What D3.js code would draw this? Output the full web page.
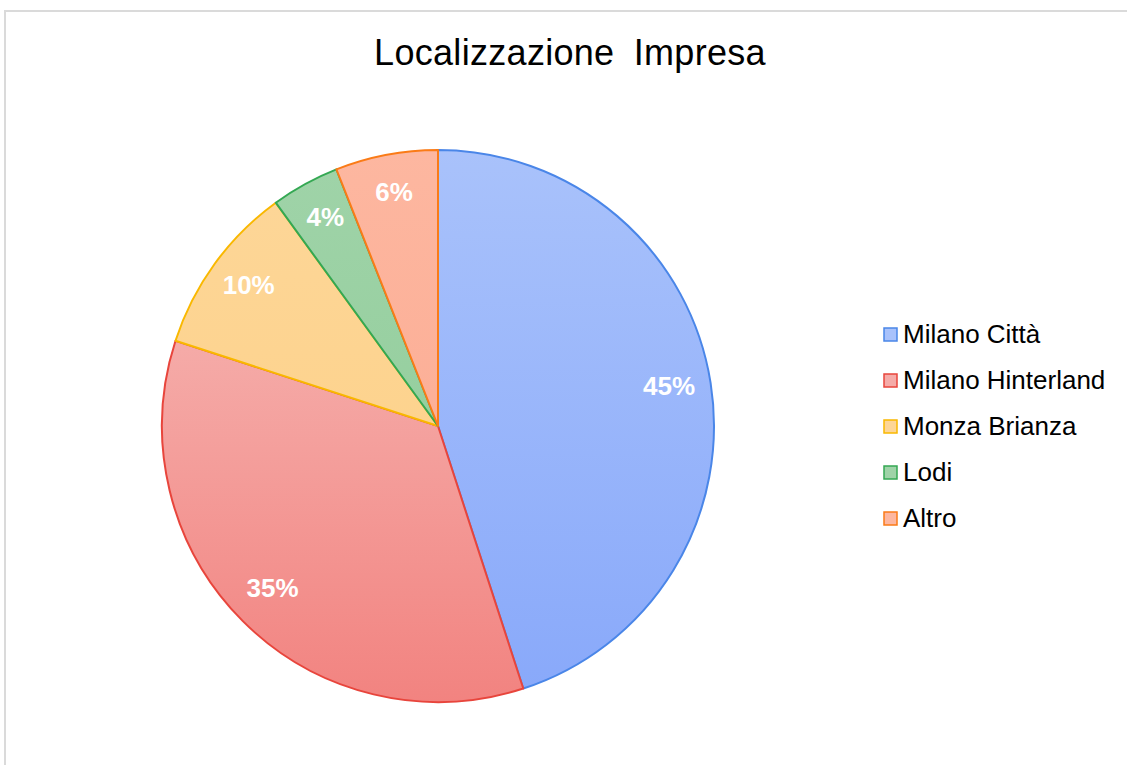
<!DOCTYPE html>
<html>
<head>
<meta charset="utf-8">
<script src="https://cdn.jsdelivr.net/npm/d3@7"></script>
<style>
  body { margin: 0; background: #fff; }
  text { font-family: "Liberation Sans", Arial, sans-serif; }
</style>
</head>
<body>
<div id="chart"></div>
<script>
let categories = ["Milano Città", "Milano Hinterland", "Monza Brianza", "Lodi", "Altro"]
let values = [45, 35, 10, 4, 6]
let fillTop = ["#a9c2fb", "#f5aba8", "#fdd697", "#9fd3a8", "#fdb7a0"]
let fillBottom = ["#89a9fa", "#f28380", "#fdd38e", "#96cf9f", "#fcaf97"]
let strokes = ["#4a86e8", "#e8453c", "#f9b800", "#34a853", "#fa7b17"]

let svgWidth = 1127
let svgHeight = 765

let svg = d3.select("#chart")
  .append("svg")
  .attr("width", svgWidth)
  .attr("height", svgHeight)

// frame
svg.append("path")
  .attr("d", "M5,765 L5,11 L1127,11")
  .attr("fill", "none")
  .attr("stroke", "#dadada")
  .attr("stroke-width", 2)

svg.append("text")
  .attr("x", 570)
  .attr("y", 65)
  .attr("text-anchor", "middle")
  .attr("font-size", 36)
  .attr("word-spacing", 9)
  .attr("letter-spacing", 0.3)
  .attr("fill", "#000")
  .text("Localizzazione Impresa")

let defs = svg.append("defs")
categories.forEach(function(c, i) {
  let g = defs.append("linearGradient")
    .attr("id", "grad" + i)
    .attr("x1", 0).attr("y1", 0)
    .attr("x2", 0).attr("y2", 1)
  g.append("stop").attr("offset", "0%").attr("stop-color", fillTop[i])
  g.append("stop").attr("offset", "100%").attr("stop-color", fillBottom[i])
})

let cx = 438
let cy = 426
let radius = 276

let pieData = d3.pie().sort(null).value(d => d)(values)
let arc = d3.arc().innerRadius(0).outerRadius(radius)
let labelArc = d3.arc().innerRadius(234).outerRadius(234)

let pieGroup = svg.append("g")
  .attr("transform", `translate(${cx}, ${cy})`)

pieGroup.selectAll("path.slice")
  .data(pieData)
  .enter()
  .append("path")
  .attr("class", "slice")
  .attr("d", arc)
  .attr("fill", (d, i) => `url(#grad${i})`)
  .attr("stroke", (d, i) => strokes[i])
  .attr("stroke-width", 2)
  .attr("stroke-linejoin", "round")

pieGroup.selectAll("text.pct")
  .data(pieData)
  .enter()
  .append("text")
  .attr("class", "pct")
  .attr("transform", d => `translate(${labelArc.centroid(d)})`)
  .attr("text-anchor", "middle")
  .attr("dy", "0.2em")
  .attr("font-size", 26)
  .attr("font-weight", "bold")
  .attr("fill", "#fff")
  .text(d => d.data + "%")

let legend = svg.append("g")
  .attr("transform", "translate(883, 334)")

let rows = legend.selectAll("g")
  .data(categories)
  .enter()
  .append("g")
  .attr("transform", (d, i) => `translate(0, ${i * 46})`)

rows.append("rect")
  .attr("x", 1)
  .attr("y", -6)
  .attr("width", 13)
  .attr("height", 13)
  .attr("fill", (d, i) => fillTop[i])
  .attr("stroke", (d, i) => strokes[i])
  .attr("stroke-width", 1.5)

rows.append("text")
  .attr("x", 20)
  .attr("dy", "0.36em")
  .attr("font-size", 26)
  .attr("fill", "#000")
  .text(d => d)
</script>
</body>
</html>
